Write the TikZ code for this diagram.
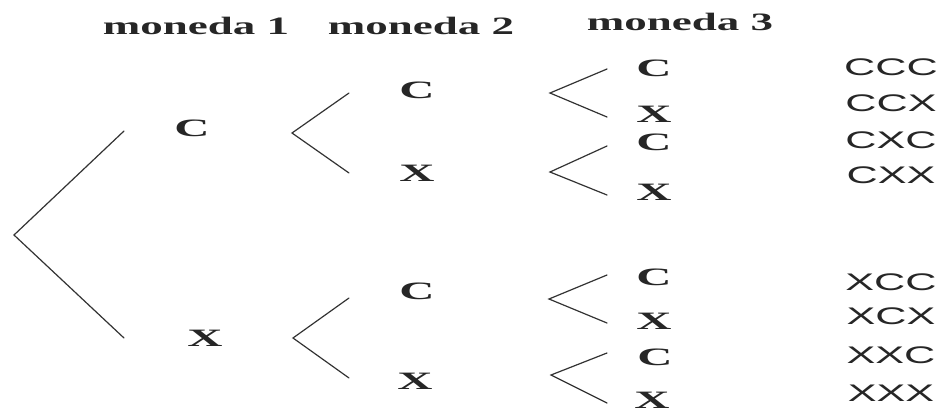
\documentclass[tikz,border=0pt]{standalone}
\usepackage{fontspec}
\setmainfont{Liberation Serif}
\setsansfont{Liberation Sans}
\begin{document}
\begin{tikzpicture}[x=1pt,y=-1pt,
  ink/.style={black!85},
  branch/.style={draw=black!80,line width=1.2pt,line cap=round,line join=miter},
  head/.style={ink,inner sep=0pt,anchor=base,font=\fontsize{25}{25}\selectfont\bfseries,xscale=1.8,transform shape},
  coin/.style={ink,inner sep=0pt,font=\fontsize{25}{25}\selectfont\bfseries,xscale=1.95,transform shape},
  res/.style={ink,inner sep=0pt,font=\fontsize{24}{24}\selectfont\sffamily,xscale=1.8,transform shape}]
\useasboundingbox (0,0) rectangle (940,416);
\fill[white] (0,0) rectangle (940,416);
% headings
\node[head] (h1) at (196,34) {moneda 1};
\node[head] (h2) at (421,34) {moneda 2};
\node[head] (h3) at (680,30) {moneda 3};
% level 1
\node[coin] (a1) at (192,128) {C};
\node[coin] (a2) at (205,338) {X};
% level 2
\node[coin] (b1) at (417,90) {C};
\node[coin] (b2) at (417,173) {X};
\node[coin] (b3) at (417,291) {C};
\node[coin] (b4) at (415,381) {X};
% level 3
\node[coin] (c1) at (654,68) {C};
\node[coin] (c2) at (654,114) {X};
\node[coin] (c3) at (654,142) {C};
\node[coin] (c4) at (654,192) {X};
\node[coin] (c5) at (654,277) {C};
\node[coin] (c6) at (654,321) {X};
\node[coin] (c7) at (655,357) {C};
\node[coin] (c8) at (652,400) {X};
% results
\node[res] (r1) at (891,67) {CCC};
\node[res] (r2) at (891,103) {CCX};
\node[res] (r3) at (891,140) {CXC};
\node[res] (r4) at (891,175) {CXX};
\node[res] (r5) at (891,282) {XCC};
\node[res] (r6) at (891,316) {XCX};
\node[res] (r7) at (891,355) {XXC};
\node[res] (r8) at (891,393) {XXX};
% branch points
\coordinate (p0) at (14,235);
\coordinate (p0u) at (124,131);
\coordinate (p0d) at (124,338);
\coordinate (p1) at (292,133);
\coordinate (p1u) at (349,93);
\coordinate (p1d) at (349,173);
\coordinate (p2) at (293,338);
\coordinate (p2u) at (349,298);
\coordinate (p2d) at (349,378);
\coordinate (q1) at (550,93);
\coordinate (q1u) at (607,69);
\coordinate (q1d) at (607,117);
\coordinate (q2) at (550,172);
\coordinate (q2u) at (607,146);
\coordinate (q2d) at (607,195);
\coordinate (q3) at (549,299);
\coordinate (q3u) at (607,275);
\coordinate (q3d) at (607,323);
\coordinate (q4) at (551,375);
\coordinate (q4u) at (607,353);
\coordinate (q4d) at (607,403);
\draw[branch] (p0u) -- (p0) -- (p0d);
\draw[branch] (p1u) -- (p1) -- (p1d);
\draw[branch] (p2u) -- (p2) -- (p2d);
\draw[branch] (q1u) -- (q1) -- (q1d);
\draw[branch] (q2u) -- (q2) -- (q2d);
\draw[branch] (q3u) -- (q3) -- (q3d);
\draw[branch] (q4u) -- (q4) -- (q4d);
\end{tikzpicture}
\end{document}
